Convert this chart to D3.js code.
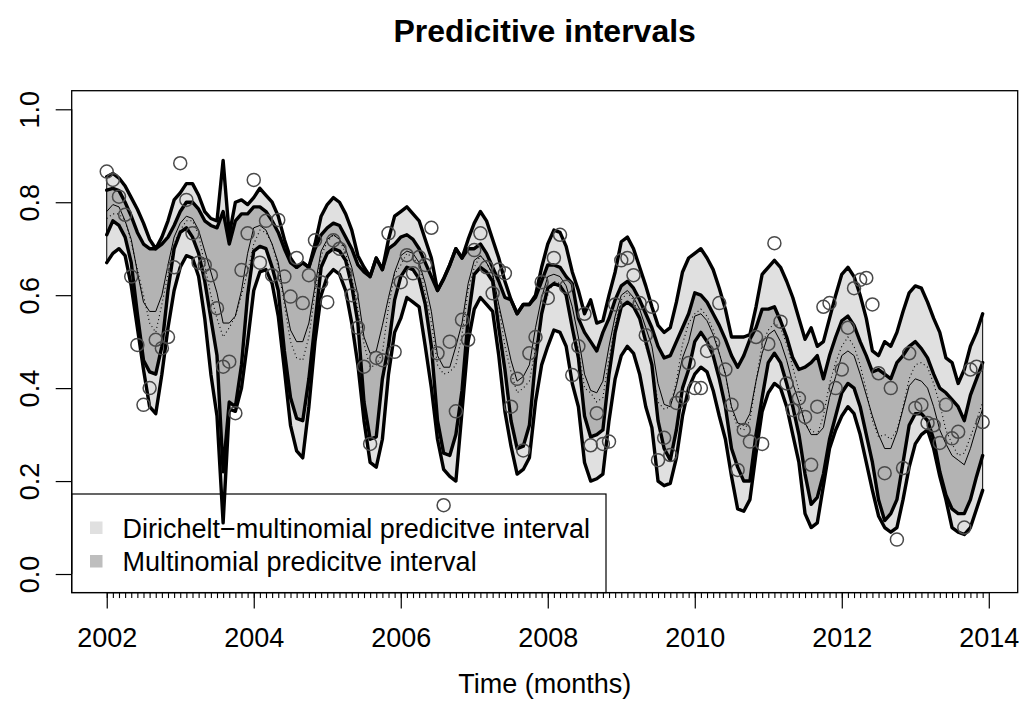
<!DOCTYPE html>
<html>
<head>
<meta charset="utf-8">
<script src="https://cdn.jsdelivr.net/npm/d3@7"></script>
<style>
body{margin:0;background:#fff}
svg{display:block;font-family:"Liberation Sans",Arial,sans-serif}
</style>
</head>
<body>
<svg id="chart" width="1023" height="727"></svg>
<script>
// monthly series, Jan 2002 .. Dec 2013 (12 values per line = one year)
const startYear=2002;
const dmUpper=[
 0.855,0.862,0.852,0.835,0.81,0.785,0.755,0.72,0.70,0.725,0.76,0.805,
 0.82,0.84,0.84,0.815,0.78,0.765,0.76,0.89,0.73,0.80,0.805,0.795,
 0.81,0.83,0.815,0.80,0.77,0.72,0.68,0.66,0.67,0.66,0.71,0.77,
 0.795,0.81,0.80,0.775,0.74,0.685,0.66,0.64,0.68,0.655,0.72,0.77,
 0.78,0.79,0.775,0.76,0.72,0.68,0.61,0.635,0.665,0.70,0.68,0.72,
 0.755,0.78,0.76,0.72,0.68,0.63,0.59,0.56,0.58,0.58,0.60,0.66,
 0.71,0.74,0.735,0.705,0.65,0.61,0.56,0.59,0.54,0.545,0.60,0.65,
 0.715,0.725,0.70,0.66,0.62,0.575,0.535,0.52,0.53,0.585,0.65,0.68,
 0.69,0.70,0.68,0.655,0.615,0.57,0.51,0.51,0.51,0.515,0.575,0.645,
 0.66,0.675,0.66,0.63,0.595,0.55,0.505,0.53,0.49,0.50,0.55,0.60,
 0.645,0.66,0.64,0.60,0.55,0.48,0.47,0.50,0.49,0.52,0.565,0.605,
 0.62,0.615,0.585,0.55,0.52,0.465,0.455,0.41,0.44,0.49,0.52,0.56];
const mnUpper=[
 0.826,0.83,0.825,0.80,0.77,0.735,0.71,0.70,0.70,0.71,0.725,0.75,
 0.78,0.80,0.80,0.785,0.76,0.75,0.745,0.78,0.71,0.76,0.775,0.775,
 0.79,0.79,0.78,0.76,0.735,0.70,0.67,0.66,0.67,0.66,0.70,0.73,
 0.745,0.755,0.75,0.725,0.70,0.665,0.65,0.64,0.68,0.655,0.70,0.71,
 0.725,0.73,0.72,0.70,0.67,0.64,0.61,0.635,0.665,0.70,0.68,0.70,
 0.70,0.71,0.69,0.66,0.63,0.595,0.59,0.56,0.58,0.58,0.595,0.63,
 0.665,0.665,0.66,0.64,0.625,0.55,0.52,0.50,0.48,0.52,0.55,0.59,
 0.62,0.63,0.615,0.59,0.56,0.53,0.49,0.465,0.47,0.50,0.53,0.56,
 0.605,0.60,0.585,0.56,0.535,0.505,0.47,0.445,0.47,0.505,0.53,0.57,
 0.57,0.575,0.545,0.51,0.465,0.44,0.445,0.455,0.47,0.42,0.47,0.51,
 0.545,0.555,0.535,0.50,0.47,0.435,0.44,0.43,0.42,0.455,0.47,0.49,
 0.50,0.485,0.465,0.43,0.40,0.39,0.375,0.36,0.33,0.385,0.42,0.455];
const mnLower=[
 0.73,0.76,0.75,0.725,0.67,0.56,0.46,0.435,0.43,0.49,0.61,0.70,
 0.735,0.745,0.725,0.69,0.63,0.55,0.47,0.22,0.37,0.36,0.45,0.60,
 0.695,0.705,0.70,0.66,0.61,0.48,0.38,0.335,0.33,0.42,0.54,0.66,
 0.69,0.70,0.695,0.675,0.62,0.54,0.37,0.29,0.295,0.42,0.49,0.59,
 0.64,0.66,0.655,0.635,0.58,0.49,0.33,0.26,0.255,0.30,0.395,0.55,
 0.645,0.66,0.65,0.63,0.53,0.44,0.33,0.27,0.275,0.32,0.46,0.56,
 0.615,0.625,0.62,0.60,0.53,0.465,0.34,0.295,0.30,0.31,0.43,0.52,
 0.575,0.585,0.575,0.55,0.50,0.45,0.33,0.27,0.245,0.31,0.40,0.44,
 0.50,0.52,0.50,0.47,0.42,0.36,0.27,0.23,0.20,0.20,0.30,0.38,
 0.455,0.475,0.455,0.41,0.36,0.30,0.215,0.15,0.165,0.215,0.29,0.34,
 0.39,0.41,0.40,0.36,0.30,0.24,0.16,0.115,0.13,0.16,0.24,0.32,
 0.345,0.345,0.33,0.29,0.22,0.17,0.14,0.13,0.13,0.16,0.21,0.255];
const dmLower=[
 0.67,0.69,0.70,0.685,0.62,0.53,0.44,0.36,0.345,0.43,0.53,0.61,
 0.66,0.685,0.68,0.64,0.55,0.43,0.34,0.11,0.355,0.35,0.40,0.50,
 0.61,0.65,0.655,0.625,0.555,0.44,0.32,0.265,0.25,0.36,0.50,0.60,
 0.64,0.655,0.645,0.61,0.54,0.45,0.33,0.24,0.23,0.29,0.43,0.52,
 0.55,0.595,0.585,0.575,0.49,0.40,0.29,0.225,0.21,0.20,0.35,0.50,
 0.57,0.595,0.58,0.565,0.47,0.35,0.275,0.215,0.225,0.25,0.37,0.45,
 0.49,0.525,0.52,0.49,0.41,0.36,0.24,0.20,0.205,0.215,0.33,0.42,
 0.47,0.49,0.475,0.43,0.36,0.315,0.20,0.19,0.195,0.25,0.34,0.40,
 0.43,0.445,0.435,0.395,0.34,0.29,0.21,0.14,0.135,0.16,0.26,0.35,
 0.39,0.41,0.40,0.36,0.30,0.24,0.13,0.10,0.11,0.19,0.27,0.31,
 0.34,0.36,0.345,0.30,0.24,0.18,0.125,0.10,0.09,0.10,0.16,0.23,
 0.28,0.30,0.31,0.27,0.21,0.16,0.10,0.09,0.085,0.10,0.14,0.18];
const mnMedian=[
 0.78,0.795,0.79,0.76,0.72,0.65,0.585,0.565,0.565,0.60,0.665,0.725,
 0.755,0.77,0.765,0.74,0.695,0.65,0.605,0.54,0.54,0.555,0.61,0.69,
 0.745,0.75,0.74,0.71,0.67,0.59,0.525,0.50,0.50,0.54,0.62,0.695,
 0.72,0.73,0.72,0.70,0.66,0.60,0.51,0.475,0.48,0.535,0.595,0.65,
 0.685,0.695,0.69,0.67,0.625,0.565,0.47,0.445,0.445,0.49,0.54,0.625,
 0.675,0.685,0.67,0.645,0.58,0.52,0.46,0.415,0.425,0.45,0.53,0.595,
 0.64,0.645,0.64,0.62,0.575,0.51,0.43,0.395,0.39,0.415,0.49,0.555,
 0.60,0.61,0.595,0.57,0.53,0.49,0.41,0.365,0.36,0.405,0.465,0.50,
 0.555,0.56,0.545,0.515,0.475,0.43,0.36,0.325,0.32,0.345,0.415,0.475,
 0.515,0.525,0.50,0.46,0.41,0.37,0.325,0.30,0.30,0.315,0.38,0.425,
 0.47,0.48,0.47,0.43,0.385,0.34,0.30,0.27,0.27,0.305,0.355,0.405,
 0.42,0.415,0.40,0.36,0.31,0.28,0.255,0.245,0.235,0.27,0.315,0.355];
const dmMedian=[
 0.765,0.775,0.775,0.76,0.715,0.655,0.60,0.54,0.52,0.58,0.645,0.71,
 0.74,0.76,0.76,0.73,0.665,0.60,0.55,0.51,0.53,0.555,0.60,0.65,
 0.71,0.74,0.735,0.71,0.66,0.58,0.50,0.465,0.46,0.51,0.605,0.685,
 0.715,0.73,0.72,0.69,0.64,0.57,0.495,0.445,0.45,0.475,0.575,0.645,
 0.665,0.69,0.68,0.665,0.605,0.54,0.45,0.43,0.435,0.45,0.515,0.61,
 0.66,0.685,0.67,0.645,0.575,0.49,0.435,0.39,0.40,0.415,0.485,0.555,
 0.60,0.63,0.625,0.60,0.53,0.485,0.40,0.39,0.37,0.38,0.465,0.535,
 0.59,0.605,0.59,0.545,0.49,0.445,0.37,0.355,0.36,0.415,0.495,0.54,
 0.56,0.57,0.555,0.525,0.475,0.43,0.355,0.315,0.31,0.33,0.415,0.495,
 0.525,0.54,0.53,0.495,0.445,0.395,0.32,0.31,0.30,0.34,0.41,0.455,
 0.49,0.51,0.49,0.45,0.395,0.33,0.295,0.30,0.29,0.31,0.36,0.42,
 0.45,0.455,0.445,0.41,0.365,0.31,0.28,0.255,0.26,0.295,0.33,0.37];
const observed=[
 0.866,0.848,0.812,0.773,0.64,0.493,0.364,0.40,0.504,0.486,0.51,0.66,
 0.884,0.805,0.733,0.67,0.665,0.643,0.572,0.446,0.457,0.346,0.654,0.733,
 0.848,0.67,0.76,0.643,0.762,0.64,0.597,0.68,0.583,0.643,0.718,0.628,
 0.585,0.718,0.70,0.647,0.60,0.53,0.446,0.28,0.465,0.46,0.733,0.478,
 0.628,0.686,0.647,0.682,0.665,0.745,0.475,0.148,0.50,0.35,0.547,0.504,
 0.697,0.733,0.66,0.604,0.655,0.647,0.36,0.42,0.266,0.475,0.51,0.628,
 0.594,0.68,0.73,0.618,0.428,0.49,0.56,0.277,0.346,0.28,0.285,0.58,
 0.675,0.68,0.643,0.583,0.514,0.575,0.245,0.293,0.256,0.368,0.38,0.454,
 0.40,0.40,0.48,0.497,0.583,0.44,0.364,0.224,0.31,0.285,0.51,0.28,
 0.495,0.712,0.543,0.41,0.353,0.378,0.338,0.235,0.36,0.575,0.583,0.40,
 0.44,0.53,0.615,0.633,0.637,0.58,0.432,0.217,0.40,0.074,0.228,0.475,
 0.357,0.364,0.325,0.32,0.282,0.364,0.292,0.306,0.10,0.44,0.446,0.327];
const yearTicks=[2002,2004,2006,2008,2010,2012,2014];
const yTicks=[0,0.2,0.4,0.6,0.8,1.0];
const legendItems=[
  {label:"Dirichelt\u2212multinomial predicitve interval",color:"#e0e0e0"},
  {label:"Multinomial predicitve interval",color:"#bebebe"}];

const w=1023,h=727;
const plot={left:71.7,right:1017.7,top:90.7,bottom:592.6};
const months=observed.map((d,i)=>startYear+i/12);
const idx=d3.range(months.length);

const x=d3.scaleLinear().domain([2001.5233,2014.3933]).range([plot.left,plot.right]);
const y=d3.scaleLinear().domain([-0.04,1.04]).range([plot.bottom,plot.top]);

const svg=d3.select("#chart");
svg.append("rect").attr("width",w).attr("height",h).attr("fill","#fff");

// title
svg.append("text")
   .attr("x",(plot.left+plot.right)/2).attr("y",42)
   .attr("text-anchor","middle")
   .attr("font-weight","bold").attr("font-size",32)
   .text("Predicitive intervals");

// legend (drawn before the data, the spike and a point go over it)
const legend=svg.append("g").attr("id","legend");
legend.append("rect")
      .attr("x",plot.left).attr("y",494)
      .attr("width",606-plot.left).attr("height",plot.bottom-494)
      .attr("fill","#fff").attr("stroke","#000").attr("stroke-width",1.2);
legend.selectAll("rect.key")
      .data(legendItems).enter().append("rect")
      .attr("class","key")
      .attr("x",90).attr("y",(d,i)=>521.5+i*33.5)
      .attr("width",12.5).attr("height",12.5)
      .attr("fill",d=>d.color);
legend.selectAll("text")
      .data(legendItems).enter().append("text")
      .attr("x",122.5).attr("y",(d,i)=>538+i*33)
      .attr("font-size",27)
      .text(d=>d.label);

// bands
const band=(lo,hi)=>d3.area()
  .x(i=>x(months[i])).y0(i=>y(lo[i])).y1(i=>y(hi[i]));
svg.append("path").datum(idx)
   .attr("d",band(dmLower,dmUpper))
   .attr("fill","#e0e0e0").attr("stroke","#000").attr("stroke-width",1);
svg.append("path").datum(idx)
   .attr("d",band(mnLower,mnUpper))
   .attr("fill","#b3b3b3").attr("stroke","#000").attr("stroke-width",1);

const line=arr=>d3.line().x(i=>x(months[i])).y(i=>y(arr[i]));
[dmUpper,dmLower,mnUpper,mnLower].forEach(arr=>{
  svg.append("path").datum(idx)
     .attr("d",line(arr))
     .attr("fill","none").attr("stroke","#000")
     .attr("stroke-width",3.4)
     .attr("stroke-linejoin","round").attr("stroke-linecap","round");
});
svg.append("path").datum(idx)
   .attr("d",line(mnMedian))
   .attr("fill","none").attr("stroke","#000").attr("stroke-width",1);
svg.append("path").datum(idx)
   .attr("d",line(dmMedian))
   .attr("fill","none").attr("stroke","#000").attr("stroke-width",1.1)
   .attr("stroke-dasharray","1,3");

// observations
svg.selectAll("circle.obs")
   .data(observed).enter().append("circle")
   .attr("class","obs")
   .attr("cx",(d,i)=>x(months[i])).attr("cy",d=>y(d))
   .attr("r",6.5)
   .attr("fill","none").attr("stroke","#4a4a4a").attr("stroke-width",1.5);

// axes
const xMinor=d3.axisBottom(x).tickValues(months).tickSize(5.5).tickFormat("");
svg.append("g").attr("transform",`translate(0,${plot.bottom})`).call(xMinor)
   .call(g=>g.select(".domain").remove())
   .selectAll("line").attr("stroke-width",1.1);

const xAxis=d3.axisBottom(x).tickValues(yearTicks).tickSize(16).tickFormat(d3.format("d"));
svg.append("g").attr("id","x-axis")
   .attr("transform",`translate(0,${plot.bottom})`)
   .call(xAxis)
   .call(g=>g.select(".domain").attr("d",`M${x(2002)},0H${x(2014)}`).attr("stroke-width",1.2))
   .call(g=>g.selectAll("line").attr("stroke-width",1.2))
   .call(g=>g.selectAll("text").attr("y",54.5).attr("dy",null)
             .attr("font-size",27).attr("fill","#000"));

const yAxis=d3.axisLeft(y).tickValues(yTicks).tickSize(16).tickFormat(d3.format(".1f"));
svg.append("g").attr("id","y-axis")
   .attr("transform",`translate(${plot.left},0)`)
   .call(yAxis)
   .call(g=>g.select(".domain").attr("d",`M0,${y(0)}V${y(1)}`).attr("stroke-width",1.2))
   .call(g=>g.selectAll("line").attr("stroke-width",1.2))
   .call(g=>g.selectAll("text").attr("x",null).attr("dy",null)
             .attr("text-anchor","middle")
             .attr("transform","translate(-33,0) rotate(-90)")
             .attr("font-size",27).attr("fill","#000"));
svg.selectAll("#x-axis, #y-axis").attr("font-family",null).attr("font-size",null);

// plot box
svg.append("rect")
   .attr("x",plot.left).attr("y",plot.top)
   .attr("width",plot.right-plot.left).attr("height",plot.bottom-plot.top)
   .attr("fill","none").attr("stroke","#000").attr("stroke-width",1.3);

// x label
svg.append("text")
   .attr("x",(plot.left+plot.right)/2).attr("y",693)
   .attr("text-anchor","middle").attr("font-size",27)
   .text("Time (months)");
</script>
</body>
</html>
